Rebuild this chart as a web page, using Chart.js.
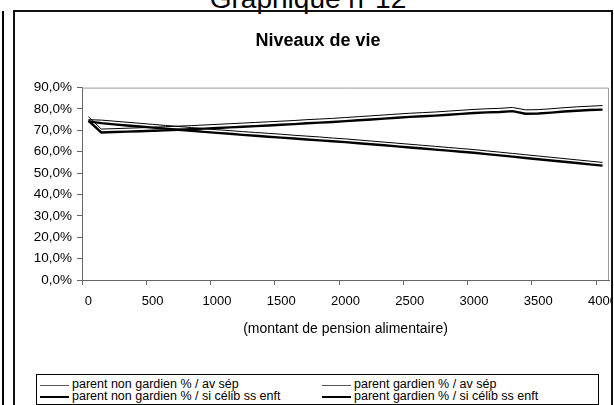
<!DOCTYPE html>
<html>
<head>
<meta charset="utf-8">
<script src="https://cdn.jsdelivr.net/npm/chart.js@4/dist/chart.umd.min.js"></script>
<style>
  html, body { margin: 0; padding: 0; background: #fff; }
  body { width: 614px; height: 405px; position: relative; overflow: hidden; font-family: "Liberation Sans", Arial, sans-serif; }
  #chart { position: absolute; left: 0; top: 0; }
  #sup { position: absolute; left: 208px; width: 200px; top: -15px; line-height: 28px; font-size: 28px; text-align: center; white-space: nowrap; }
  #edge { position: absolute; left: 2px; top: 11px; width: 2px; height: 394px; background: #000; }
  #frame { position: absolute; left: 13px; top: 10px; width: 596px; height: 400px; border: 2px solid #111; pointer-events: none; }
  #cover { position: absolute; left: 613px; top: 0; width: 10px; height: 405px; background: #fff; }
  #legend { position: absolute; left: 36px; top: 374px; width: 561px; height: 29px; border: 1px solid #000; background: #fff; font-size: 12.5px; }
  .item { position: absolute; height: 12px; width: 280px; }
  .item .s { position: absolute; left: 0; width: 29px; }
  .item .t { position: absolute; left: 32px; top: -1px; line-height: 13px; white-space: nowrap; }
</style>
</head>
<body>
<div id="sup">Graphique n°12</div>
<div id="edge"></div>
<canvas id="chart" width="614" height="405"></canvas>
<div id="frame"></div>
<div id="cover"></div>
<div id="legend"></div>
<script>
const montants = ['0', '100', '200', '300', '400', '500', '600', '700', '800', '900',
    '1000', '1100', '1200', '1300', '1400', '1500', '1600', '1700', '1800', '1900',
    '2000', '2100', '2200', '2300', '2400', '2500', '2600', '2700', '2800', '2900',
    '3000', '3100', '3200', '3300', '3400', '3500', '3600', '3700', '3800', '3900', '4000'];

// niveaux de vie en %
const nonGardienAvSep = [75.0, 74.8, 74.3, 73.8, 73.3, 72.8, 72.3, 71.8, 71.3, 70.8,
    70.3, 69.9, 69.4, 69.0, 68.6, 68.2, 67.7, 67.3, 66.9, 66.4,
    66.0, 65.5, 65.0, 64.5, 64.0, 63.5, 63.0, 62.5, 62.0, 61.5,
    61.0, 60.4, 59.8, 59.2, 58.6, 58.0, 57.4, 56.8, 56.2, 55.6, 55.0];
const gardienAvSep = [76.4, 70.6, 70.8, 71.0, 71.2, 71.5, 71.7, 72.0, 72.2, 72.5,
    72.8, 73.1, 73.4, 73.7, 74.0, 74.3, 74.6, 75.0, 75.3, 75.6,
    76.0, 76.4, 76.8, 77.2, 77.6, 78.0, 78.3, 78.6, 79.0, 79.4,
    79.8, 80.1, 80.3, 80.7, 79.6, 79.7, 80.1, 80.6, 81.0, 81.3, 81.6];
const nonGardienCelib = [74.2, 73.4, 72.8, 72.3, 71.8, 71.3, 70.8, 70.3, 69.8, 69.3,
    68.8, 68.4, 67.9, 67.5, 67.0, 66.6, 66.2, 65.7, 65.3, 64.9,
    64.5, 64.0, 63.5, 63.0, 62.5, 62.0, 61.5, 61.0, 60.5, 60.0,
    59.5, 58.9, 58.3, 57.7, 57.1, 56.5, 55.9, 55.3, 54.7, 54.1, 53.5];
const gardienCelib = [74.6, 69.0, 69.2, 69.4, 69.6, 69.8, 70.0, 70.3, 70.5, 70.8,
    71.1, 71.4, 71.7, 72.0, 72.3, 72.6, 72.9, 73.3, 73.6, 73.9,
    74.3, 74.7, 75.1, 75.5, 75.9, 76.3, 76.6, 76.9, 77.3, 77.7,
    78.1, 78.4, 78.6, 79.0, 77.8, 77.9, 78.3, 78.8, 79.2, 79.5, 79.7];

const labels = ['parent non gardien % / av sép', 'parent gardien % / av sép',
    'parent non gardien % / si célib ss enft', 'parent gardien % / si célib ss enft'];

const FONT = '"Liberation Sans", Arial, sans-serif';

// cadre gris de la zone de tracé (haut et droite)
const plotBorder = {
    id: 'plotBorder',
    beforeDatasetsDraw(chart) {
        const a = chart.chartArea;
        const ctx = chart.ctx;
        ctx.save();
        ctx.strokeStyle = '#9a9a9a';
        ctx.lineWidth = 1;
        ctx.beginPath();
        ctx.moveTo(a.left, a.top + 0.5);
        ctx.lineTo(a.right - 0.5, a.top + 0.5);
        ctx.lineTo(a.right - 0.5, a.bottom);
        ctx.stroke();
        ctx.restore();
    }
};

function line(label, data, width) {
    return {
        label: label,
        data: data,
        borderColor: '#000',
        backgroundColor: '#000',
        borderWidth: width,
        pointRadius: 0,
        tension: 0,
        fill: false
    };
}

const chart = new Chart(document.getElementById('chart'), {
    type: 'line',
    data: {
        labels: montants,
        datasets: [
            line(labels[2], nonGardienCelib, 2.4),
            line(labels[3], gardienCelib, 2.4),
            line(labels[0], nonGardienAvSep, 1),
            line(labels[1], gardienAvSep, 1)
        ]
    },
    options: {
        responsive: false,
        animation: false,
        layout: { padding: { left: 27, right: 5, top: 0, bottom: 63 } },
        plugins: {
            legend: { display: false },
            tooltip: { enabled: false },
            title: {
                display: true,
                text: 'Niveaux de vie',
                color: '#000',
                font: { family: FONT, size: 18, weight: 'bold' },
                padding: { top: 30, bottom: 36 }
            }
        },
        scales: {
            x: {
                offset: true,
                afterFit: s => { s.height = 62; s.paddingLeft = 0; s.paddingRight = 0; },
                grid: {
                    offset: true,
                    drawOnChartArea: false,
                    tickLength: 5,
                    color: c => c.index % 5 === 0 ? '#666' : 'rgba(0,0,0,0)'
                },
                border: { color: '#666' },
                ticks: {
                    autoSkip: false,
                    maxRotation: 0,
                    padding: 9,
                    color: '#000',
                    font: { family: FONT, size: 13 },
                    callback: function (v, i) { return i % 5 === 0 ? this.getLabelForValue(v) : ''; }
                },
                title: {
                    display: true,
                    text: '(montant de pension alimentaire)',
                    color: '#000',
                    font: { family: FONT, size: 14 },
                    padding: { top: 0, bottom: 4 }
                }
            },
            y: {
                min: 0,
                max: 90,
                afterFit: s => { s.width = 55; },
                grid: { drawOnChartArea: false, tickLength: 5, color: '#666' },
                border: { color: '#666' },
                ticks: {
                    stepSize: 10,
                    padding: 5,
                    color: '#000',
                    font: { family: FONT, size: 13.5 },
                    callback: v => v.toFixed(1).replace('.', ',') + '%'
                }
            }
        }
    },
    plugins: [plotBorder]
});

// légende en deux colonnes
const legend = document.getElementById('legend');
const order = [2, 3, 0, 1];
order.forEach((di, k) => {
    const ds = chart.data.datasets[di];
    const el = document.createElement('div');
    el.className = 'item';
    el.style.left = (k % 2 === 0 ? 3 : 285) + 'px';
    el.style.top = (k < 2 ? 4 : 16) + 'px';
    const s = document.createElement('div');
    s.className = 's';
    s.style.top = (6 - Math.floor(ds.borderWidth / 2)) + 'px';
    s.style.borderTop = Math.round(ds.borderWidth) + 'px solid ' + (ds.borderWidth > 1 ? '#000' : '#555');
    const t = document.createElement('div');
    t.className = 't';
    t.textContent = ds.label;
    el.appendChild(s);
    el.appendChild(t);
    legend.appendChild(el);
});
</script>
</body>
</html>
